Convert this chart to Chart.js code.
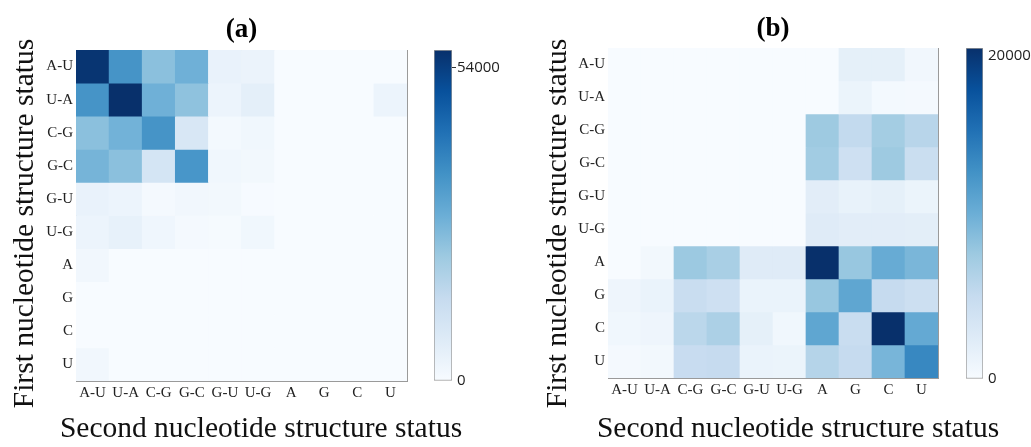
<!DOCTYPE html>
<html>
<head>
<meta charset="utf-8">
<script src="https://cdn.jsdelivr.net/npm/chart.js@4.4.1/dist/chart.umd.min.js"></script>
<style>
  html, body { margin: 0; padding: 0; background: #fff; overflow: hidden; }
  body { width: 1031px; height: 447px; position: relative; }
  canvas { position: absolute; top: 0; }
</style>
</head>
<body>
<canvas id="heatA" width="522" height="447" style="left:0px"></canvas>
<canvas id="barA" width="98" height="447" style="left:424px"></canvas>
<canvas id="heatB" width="516" height="447" style="left:540px"></canvas>
<canvas id="barB" width="75" height="447" style="left:956px"></canvas>
<script>
// structure states, same order on both axes
const colLabels = ['A-U', 'U-A', 'C-G', 'G-C', 'G-U', 'U-G', 'A', 'G', 'C', 'U'];
const rowLabels = ['A-U', 'U-A', 'C-G', 'G-C', 'G-U', 'U-G', 'A', 'G', 'C', 'U'];

// counts, one row per first-nucleotide status (top to bottom)
const countsA = [
    [56000, 35000, 24000, 28000, 4000, 3500, 0, 0, 0, 0],
    [35000, 57000, 28000, 23500, 3000, 5500, 0, 0, 0, 3000],
    [24000, 27500, 35000, 9000, 1000, 2000, 0, 0, 0, 0],
    [27000, 24000, 10000, 34500, 2000, 1500, 0, 0, 0, 0],
    [4000, 3000, 800, 1800, 1500, 300, 0, 0, 0, 0],
    [3000, 4500, 2200, 900, 600, 2000, 0, 0, 0, 0],
    [1800, 0, 0, 0, 0, 0, 0, 0, 0, 0],
    [0, 0, 0, 0, 0, 0, 0, 0, 0, 0],
    [0, 0, 0, 0, 0, 0, 0, 0, 0, 0],
    [1800, 0, 0, 0, 0, 0, 0, 0, 0, 0]
];
const countsB = [
    [0, 0, 0, 0, 0, 0, 0, 1800, 1800, 600],
    [0, 0, 0, 0, 0, 0, 0, 1200, 400, 300],
    [0, 0, 0, 0, 0, 0, 7700, 5300, 7300, 6000],
    [0, 0, 0, 0, 0, 0, 7400, 4300, 7700, 4700],
    [0, 0, 0, 0, 0, 0, 2200, 1500, 1800, 1200],
    [0, 0, 0, 0, 0, 0, 2500, 2200, 2200, 2100],
    [0, 500, 7800, 7000, 2500, 2500, 20500, 8000, 10500, 9500],
    [900, 1300, 4800, 4300, 1300, 1300, 8000, 11000, 5100, 4500],
    [700, 900, 5800, 6800, 1800, 700, 11000, 4800, 20500, 10700],
    [300, 500, 4900, 5100, 1300, 1200, 6200, 5100, 9600, 13600]
];

// colour bar ranges and ticks
const scaleMaxA = 57000;
const scaleMaxB = 20500;
const barTicksA = [0, 54000];
const barTicksB = [0, 20000];

const bluesStops = ['#f7fbff', '#deebf7', '#c6dbef', '#9ecae1', '#6baed6', '#4292c6', '#2171b5', '#08519c', '#08306b'];

function hexRgb(h) {
    return [parseInt(h.slice(1, 3), 16), parseInt(h.slice(3, 5), 16), parseInt(h.slice(5, 7), 16)];
}

function blues(t) {
    t = Math.max(0, Math.min(1, t));
    const p = t * 8;
    const i = Math.min(7, Math.floor(p));
    const f = p - i;
    const a = hexRgb(bluesStops[i]);
    const b = hexRgb(bluesStops[i + 1]);
    const c = a.map((v, k) => Math.round(v + (b[k] - v) * f));
    return `rgb(${c[0]}, ${c[1]}, ${c[2]})`;
}

const serif = 'Liberation Serif';
const frameColor = '#9a9a9a';

function heatmap(id, counts, scaleMax, cfg) {
    const n = rowLabels.length;
    const datasets = counts.map((row, r) => ({
        label: rowLabels[r],
        data: row.map(() => [n - 1 - r, n - r]),
        backgroundColor: row.map(v => blues(v / scaleMax)),
        borderWidth: 0,
        grouped: false,
        barPercentage: 1,
        categoryPercentage: 1
    }));

    return new Chart(document.getElementById(id), {
        type: 'bar',
        data: { labels: colLabels, datasets: datasets },
        options: {
            responsive: false,
            animation: false,
            events: [],
            layout: { padding: 0 },
            plugins: {
                legend: { display: false },
                tooltip: { enabled: false },
                title: {
                    display: true,
                    position: 'left',
                    text: 'First nucleotide structure status',
                    color: '#111',
                    font: { family: serif, size: 29.5, weight: 'normal' },
                    padding: { top: cfg.yTitlePad, bottom: 0 }
                },
                subtitle: {
                    display: true,
                    position: 'bottom',
                    text: 'Second nucleotide structure status',
                    color: '#111',
                    font: { family: serif, size: 29.5, weight: 'normal' },
                    padding: { top: 6, bottom: 0.3 }
                }
            },
            scales: {
                x: {
                    type: 'category',
                    offset: true,
                    grid: { display: false, drawTicks: false },
                    border: { display: true, color: frameColor, width: 1 },
                    ticks: {
                        color: '#222',
                        font: { family: serif, size: 15 },
                        padding: 3,
                        autoSkip: false,
                        maxRotation: 0
                    },
                    afterFit: s => { s.height = cfg.xHeight; }
                },
                y: {
                    type: 'linear',
                    min: 0,
                    max: n,
                    grid: { display: false, drawTicks: false },
                    border: { display: true, color: frameColor, width: 1 },
                    ticks: {
                        color: '#222',
                        font: { family: serif, size: 15 },
                        padding: 3,
                        callback: v => rowLabels[Math.round(n - 0.5 - v)]
                    },
                    afterBuildTicks: s => { s.ticks = rowLabels.map((_, i) => ({ value: n - 0.5 - i })); },
                    afterFit: s => { s.width = cfg.yWidth; }
                },
                x2: {
                    type: 'category',
                    position: 'top',
                    grid: { display: false, drawTicks: false },
                    border: { display: true, color: frameColor, width: 1 },
                    ticks: { display: false },
                    title: {
                        display: true,
                        text: cfg.panel,
                        color: '#000',
                        font: { family: serif, size: 27, weight: 'bold' },
                        padding: { top: cfg.panelPad, bottom: 0 }
                    },
                    afterFit: s => { s.height = cfg.topHeight; }
                },
                y2: {
                    type: 'linear',
                    position: 'right',
                    grid: { display: false, drawTicks: false },
                    border: { display: true, color: frameColor, width: 1 },
                    ticks: { display: false },
                    afterFit: s => { s.width = cfg.rightWidth; }
                }
            }
        }
    });
}

function colourBar(id, scaleMax, ticks, cfg) {
    return new Chart(document.getElementById(id), {
        type: 'bar',
        data: {
            labels: [''],
            datasets: [{
                data: [[0, scaleMax]],
                backgroundColor: ctx => {
                    const area = ctx.chart.chartArea;
                    if (!area) return bluesStops[0];
                    const g = ctx.chart.ctx.createLinearGradient(0, area.bottom, 0, area.top);
                    bluesStops.forEach((c, i) => g.addColorStop(i / (bluesStops.length - 1), c));
                    return g;
                },
                borderColor: frameColor,
                borderWidth: 1,
                borderSkipped: false,
                barPercentage: 1,
                categoryPercentage: 1
            }]
        },
        options: {
            responsive: false,
            animation: false,
            events: [],
            layout: { padding: cfg.padding },
            plugins: { legend: { display: false }, tooltip: { enabled: false } },
            scales: {
                x: { display: false },
                y: {
                    position: 'right',
                    min: 0,
                    max: scaleMax,
                    grid: {
                        display: true,
                        drawOnChartArea: false,
                        drawTicks: true,
                        tickLength: 4,
                        color: ctx => (cfg.tickMarks && ctx.tick && ctx.tick.value > 0) ? '#333' : 'rgba(0,0,0,0)'
                    },
                    border: { display: false },
                    ticks: {
                        color: '#222',
                        font: { family: 'Open Sans', size: 15 },
                        padding: 1,
                        callback: v => String(v)
                    },
                    afterBuildTicks: s => { s.ticks = ticks.map(v => ({ value: v })); },
                    afterFit: s => { s.width = cfg.axisWidth; }
                }
            }
        }
    });
}

heatmap('heatA', countsA, scaleMaxA, {
    panel: '(a)', yTitlePad: 7.3, yWidth: 33.3, xHeight: 24.3,
    topHeight: 50, panelPad: 13.8, rightWidth: 115
});
colourBar('barA', scaleMaxA, barTicksA, {
    padding: { left: 10, right: 10, top: 50, bottom: 66 }, axisWidth: 60, tickMarks: true
});

heatmap('heatB', countsB, scaleMaxB, {
    panel: '(b)', yTitlePad: 0.3, yWidth: 32.3, xHeight: 27.3,
    topHeight: 48, panelPad: 12.8, rightWidth: 118
});
colourBar('barB', scaleMaxB, barTicksB, {
    padding: { left: 10, right: 0, top: 48, bottom: 68 }, axisWidth: 48, tickMarks: false
});
</script>
</body>
</html>
